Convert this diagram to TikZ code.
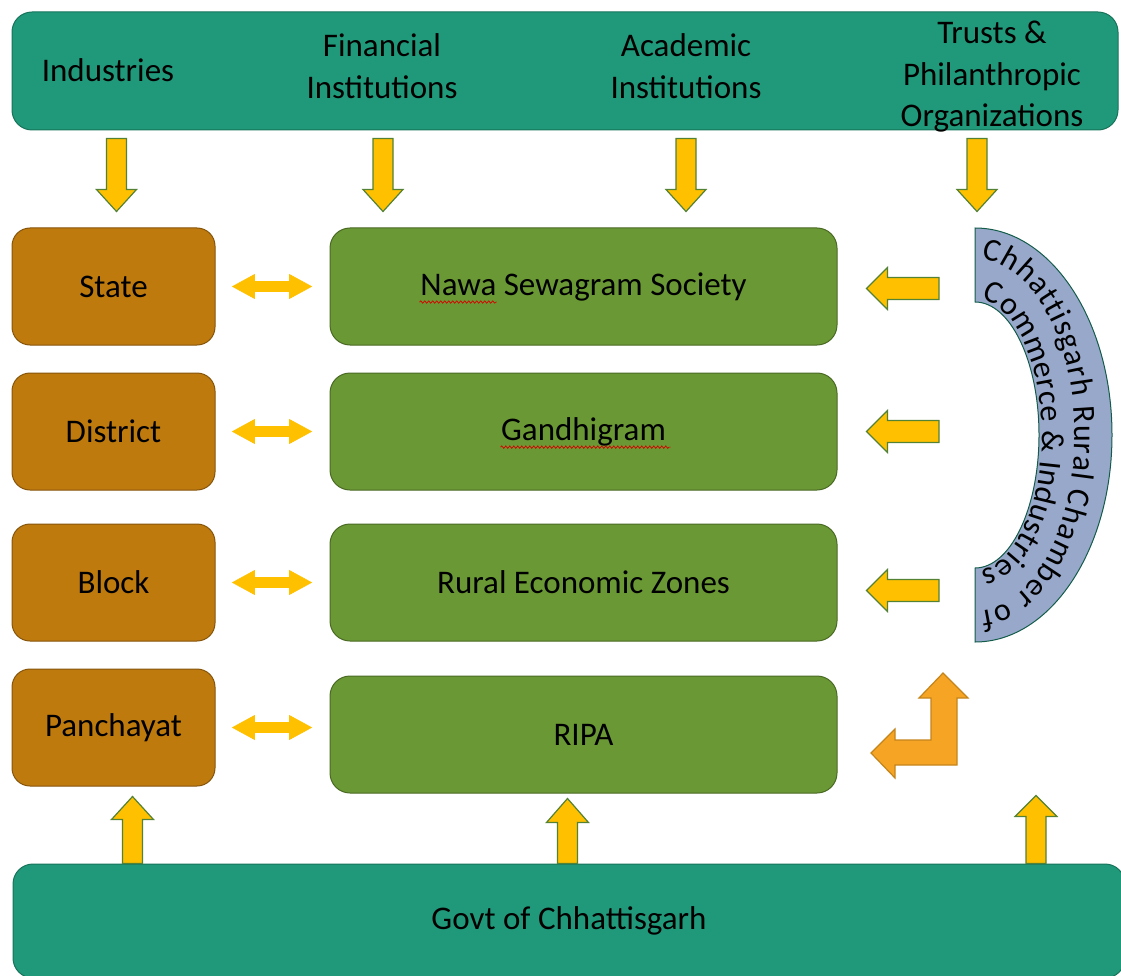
\documentclass[tikz,border=0pt]{standalone}
\usepackage{fontspec}
\setmainfont{Carlito}
\usepackage{tikz}
\usetikzlibrary{calc,positioning,decorations.text,decorations.pathmorphing}
\definecolor{junglegreen}{RGB}{32,153,122}
\definecolor{ochre}{RGB}{191,122,14}
\definecolor{olivedrab}{RGB}{106,152,52}
\definecolor{amber}{RGB}{255,192,0}
\definecolor{fern}{RGB}{84,130,53}
\definecolor{lightslate}{RGB}{151,168,202}
\definecolor{tangerine}{RGB}{245,165,35}
\newcommand{\lbl}{\fontsize{33}{41.5}\selectfont}
\newcommand{\arclbl}{\fontsize{32}{36}\selectfont}
\tikzset{every node/.append style={font=\lbl, text=black}}
\tikzset{
  bar/.style={draw=junglegreen!75!black, fill=junglegreen, line width=1pt, rounded corners=20pt, inner sep=0pt},
  lvl/.style={draw=ochre!70!black, fill=ochre, line width=1pt, rounded corners=18pt, inner sep=0pt, minimum width=203pt, minimum height=117pt},
  org/.style={draw=olivedrab!70!black, fill=olivedrab, line width=1pt, rounded corners=20pt, inner sep=0pt, minimum width=507pt, minimum height=117pt},
  fat/.style n args={3}{draw=fern, fill=amber, line width=1.2pt, to path={
    -- ($(\tikztostart)!#1!90:(\tikztotarget)$)
    -- ($(\tikztotarget)!#3!(\tikztostart)!#1!90:(\tikztotarget)$)
    -- ($(\tikztotarget)!#3!(\tikztostart)!#2!90:(\tikztotarget)$)
    -- (\tikztotarget)
    -- ($(\tikztotarget)!#3!(\tikztostart)!#2!-90:(\tikztotarget)$)
    -- ($(\tikztotarget)!#3!(\tikztostart)!#1!-90:(\tikztotarget)$)
    -- ($(\tikztostart)!#1!-90:(\tikztotarget)$)
    -- cycle}},
  dbl/.style n args={3}{draw=amber, fill=amber, line width=0.6pt, to path={
    -- ($(\tikztostart)!#3!(\tikztotarget)!#2!90:(\tikztotarget)$)
    -- ($(\tikztostart)!#3!(\tikztotarget)!#1!90:(\tikztotarget)$)
    -- ($(\tikztotarget)!#3!(\tikztostart)!#1!90:(\tikztotarget)$)
    -- ($(\tikztotarget)!#3!(\tikztostart)!#2!90:(\tikztotarget)$)
    -- (\tikztotarget)
    -- ($(\tikztotarget)!#3!(\tikztostart)!#2!-90:(\tikztotarget)$)
    -- ($(\tikztotarget)!#3!(\tikztostart)!#1!-90:(\tikztotarget)$)
    -- ($(\tikztostart)!#3!(\tikztotarget)!#1!-90:(\tikztotarget)$)
    -- ($(\tikztostart)!#3!(\tikztotarget)!#2!-90:(\tikztotarget)$)
    -- cycle}},
  arctext/.style={decorate, decoration={text along path, text align={fit to path, left indent=6pt, right indent=6pt}, text={|\arclbl|#1}}},
  spell/.style={draw=red!85!black, line width=0.7pt, decorate, decoration={snake, amplitude=1.2pt, segment length=4pt}}
}

\begin{document}
\begin{tikzpicture}[x=1pt,y=1pt]
      \useasboundingbox (0,0) rectangle (1121,-976);
      % top and bottom bars
      \node[bar, minimum width=1106pt, minimum height=118pt] (top) at (565,-71) {};
      \node (ind) at (108,-70) {Industries};
      \node[align=center] (fin) at (382,-66) {Financial\\Institutions};
      \node[align=center] (acad) at (686,-66) {Academic\\Institutions};
      \node[align=center] (trust) at (992,-77) {Trusts \&\\Philanthropic\\Organizations};
      \node[bar, minimum width=1112pt, minimum height=114pt] (govt) at (569,-921) {Govt of Chhattisgarh};
      % levels
      \node[lvl] (state) at (113.5,-286.5) {State};
      \node[lvl] (district) at (113.5,-431.5) {District};
      \node[lvl] (block) at (113.5,-582.5) {Block};
      \node[lvl] (panch) at (113.5,-727.5) {Panchayat};
      % organisations
      \node[org] (nss) at (583.5,-286.5) {Nawa Sewagram Society};
      \node[org] (gandhi) at (583.5,-431.5) {Gandhigram};
      \node[org] (rez) at (583.5,-582.5) {Rural Economic Zones};
      \node[org] (ripa) at (583.5,-734.5) {RIPA};
      \draw[spell] ($(nss.base)+(-164,-7)$) -- ++(77,0);
      \draw[spell] ($(gandhi.base)+(-83,-7)$) -- ++(170,0);
      % chamber arc
      \coordinate (cc) at (975,-435);
      \draw[draw=junglegreen!60!black, fill=lightslate, line width=1pt] ([yshift=207]cc) arc[start angle=90, end angle=-90, x radius=137pt, y radius=207pt] -- ([yshift=-133]cc) arc[start angle=-90, end angle=90, x radius=64pt, y radius=133pt] -- cycle;
      \path[arctext={Chhattisgarh Rural Chamber of}] ([yshift=176]cc) arc[start angle=90, end angle=-90, x radius=100pt, y radius=176pt];
      \path[arctext={Commerce {\&} Industries}] ([yshift=136]cc) arc[start angle=90, end angle=-90, x radius=67pt, y radius=136pt];
      % arrows from the top
      \draw[fat={10pt}{20pt}{22pt}] ($(top.south -| state)+(3,-8)$) to ($(state.north)+(3,16)$);
      \draw[fat={10pt}{20pt}{22pt}] ($(top.south -| fin)+(1,-8)$) to ($(nss.north -| fin)+(1,16)$);
      \draw[fat={10pt}{20pt}{22pt}] ($(top.south -| acad)+(0,-8)$) to ($(nss.north -| acad)+(0,16)$);
      \draw[fat={10pt}{20pt}{22pt}] ($(top.south -| cc)+(2,-8)$) to ($(nss.north -| cc)+(2,16)$);
      % level to organisation
      \foreach \a/\b in {state/nss, district/gandhi, block/rez, panch/ripa}
        \draw[dbl={5pt}{12pt}{22pt}] ([xshift=17]\a.east) to ([xshift=-18]\a.east -| \b.west);
      % chamber to organisations
      \draw[fat={11pt}{21pt}{21pt}] ($(nss -| cc)+(-36,-2)$) to ($(nss.east)+(29,-2)$);
      \draw[fat={11pt}{21pt}{21pt}] ($(gandhi -| cc)+(-36,0)$) to ($(gandhi.east)+(29,0)$);
      \draw[fat={11pt}{21pt}{21pt}] ($(rez -| cc)+(-36,-8)$) to ($(rez.east)+(29,-8)$);
      % arrows from the government
      \draw[fat={10pt}{21pt}{23pt}] ($(govt.north -| panch)+(19,0)$) to ($(panch.south)+(19,-10)$);
      \draw[fat={10pt}{21pt}{24pt}] ($(govt.north -| ripa)+(-16,0)$) to ($(ripa.south)+(-16,-5)$);
      \draw[fat={10pt}{21pt}{21pt}] ($(govt.north -| cc)+(61,0)$) to ($(ripa.south -| cc)+(61,-2)$);
      % bent arrow
      \draw[draw=tangerine!80!black, fill=tangerine, line width=1.2pt] (943,-673) -- (968,-698) -- (957,-698) -- (957,-765) -- (895,-765) -- (895,-778) -- (871,-753) -- (895,-729) -- (895,-740) -- (931,-740) -- (931,-698) -- (919,-698) -- cycle;
    \end{tikzpicture}
\end{document}
